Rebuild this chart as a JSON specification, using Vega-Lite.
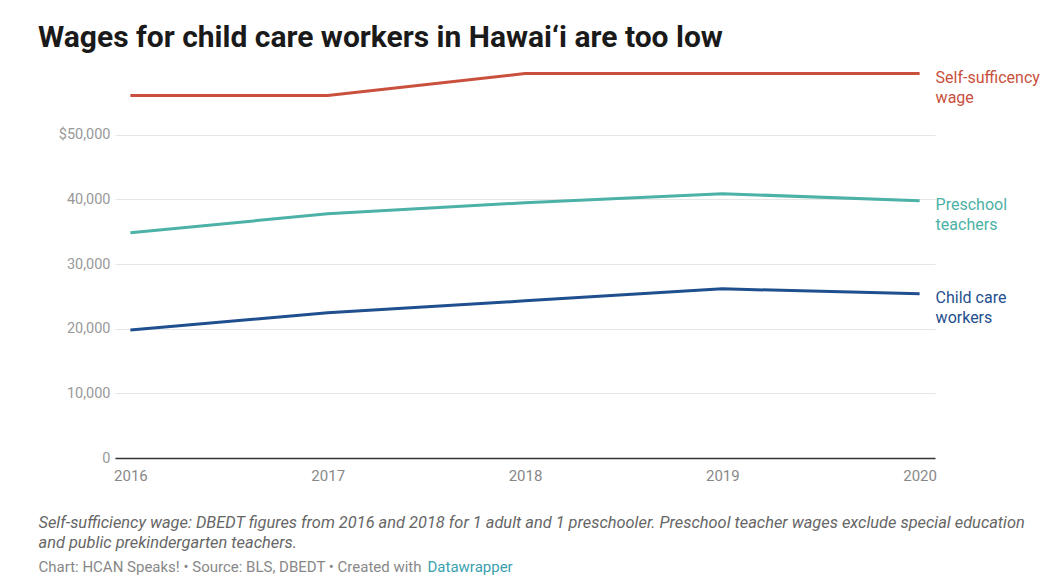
{
  "$schema": "https://vega.github.io/schema/vega-lite/v6.json",
  "width": 820,
  "height": 388,
  "autosize": {"type": "none"},
  "padding": {"left": 115, "top": 70, "right": 128, "bottom": 128},
  "background": "white",
  "config": {"font": "Roboto", "view": {"stroke": null}},
  "title": {
    "text": "Wages for child care workers in Hawai‘i are too low",
    "anchor": "start",
    "frame": "group",
    "dx": -77,
    "offset": 15,
    "fontSize": 30,
    "fontWeight": "bold",
    "font": "Roboto",
    "color": "#1a1a1a"
  },
  "data": {
    "values": [
      {"year": "2016", "series": "Self-sufficency wage", "label": "Self-sufficency\nwage", "value": 56040},
      {"year": "2017", "series": "Self-sufficency wage", "label": "Self-sufficency\nwage", "value": 56040},
      {"year": "2018", "series": "Self-sufficency wage", "label": "Self-sufficency\nwage", "value": 59440},
      {"year": "2019", "series": "Self-sufficency wage", "label": "Self-sufficency\nwage", "value": 59440},
      {"year": "2020", "series": "Self-sufficency wage", "label": "Self-sufficency\nwage", "value": 59440},
      {"year": "2016", "series": "Preschool teachers", "label": "Preschool\nteachers", "value": 34830},
      {"year": "2017", "series": "Preschool teachers", "label": "Preschool\nteachers", "value": 37770},
      {"year": "2018", "series": "Preschool teachers", "label": "Preschool\nteachers", "value": 39470},
      {"year": "2019", "series": "Preschool teachers", "label": "Preschool\nteachers", "value": 40870},
      {"year": "2020", "series": "Preschool teachers", "label": "Preschool\nteachers", "value": 39780},
      {"year": "2016", "series": "Child care workers", "label": "Child care\nworkers", "value": 19810},
      {"year": "2017", "series": "Child care workers", "label": "Child care\nworkers", "value": 22450},
      {"year": "2018", "series": "Child care workers", "label": "Child care\nworkers", "value": 24300},
      {"year": "2019", "series": "Child care workers", "label": "Child care\nworkers", "value": 26160},
      {"year": "2020", "series": "Child care workers", "label": "Child care\nworkers", "value": 25390}
    ]
  },
  "layer": [
    {
      "mark": {"type": "line", "strokeWidth": 3},
      "encoding": {
        "x": {
          "field": "year",
          "type": "ordinal",
          "scale": {"type": "point", "padding": 0.078},
          "axis": {
            "labelAngle": 0,
            "ticks": false,
            "domain": true,
            "domainColor": "#333333",
            "domainWidth": 1.5,
            "labelPadding": 10,
            "labelFontSize": 15,
            "labelColor": "#888888",
            "zindex": 1,
            "title": [
              "Self-sufficiency wage: DBEDT figures from 2016 and 2018 for 1 adult and 1 preschooler. Preschool teacher wages exclude special education",
              "and public prekindergarten teachers."
            ],
            "titleFontStyle": "italic",
            "titleFontWeight": "normal",
            "titleFontSize": 16.4,
            "titleColor": "#666666",
            "titleAnchor": "start",
            "titleAlign": "left",
            "titleBaseline": "top",
            "titleLineHeight": 20,
            "titleX": -77,
            "titleY": 56
          }
        },
        "y": {
          "field": "value",
          "type": "quantitative",
          "scale": {"domain": [0, 60000], "nice": false},
          "axis": {
            "values": [0, 10000, 20000, 30000, 40000, 50000],
            "labelExpr": "datum.value == 50000 ? '$50,000' : format(datum.value, ',')",
            "grid": true,
            "gridColor": "#e6e6e6",
            "ticks": false,
            "domain": false,
            "labelPadding": 5,
            "labelFontSize": 14.5,
            "labelColor": "#999999",
            "title": "Chart: HCAN Speaks! • Source: BLS, DBEDT • Created with",
            "titleAngle": 0,
            "titleAlign": "left",
            "titleBaseline": "middle",
            "titleFontWeight": "normal",
            "titleFontSize": 15,
            "titleColor": "#888888",
            "titleX": -77,
            "titleY": 496
          }
        },
        "color": {
          "field": "series",
          "type": "nominal",
          "scale": {
            "domain": ["Self-sufficency wage", "Preschool teachers", "Child care workers"],
            "range": ["#c9503d", "#4cb1a6", "#1f4f8f"]
          },
          "legend": null
        }
      }
    },
    {
      "transform": [{"filter": "datum.year == '2020'"}],
      "mark": {"type": "text", "align": "left", "baseline": "top", "dx": 16, "dy": -4, "fontSize": 16, "lineHeight": 20, "lineBreak": "\n"},
      "encoding": {
        "x": {"field": "year", "type": "ordinal"},
        "y": {
          "field": "value",
          "type": "quantitative",
          "scale": {"domain": [0, 60000], "nice": false},
          "axis": {
            "orient": "right",
            "labels": false,
            "ticks": false,
            "domain": false,
            "grid": false,
            "title": "Datawrapper",
            "titleAngle": 0,
            "titleAlign": "left",
            "titleBaseline": "middle",
            "titleFontWeight": "normal",
            "titleFontSize": 15,
            "titleColor": "#3a9fb0",
            "titleX": -508,
            "titleY": 496
          }
        },
        "text": {"field": "label"},
        "color": {"field": "series", "type": "nominal", "legend": null}
      }
    }
  ],
  "resolve": {"scale": {"y": "independent"}}
}
